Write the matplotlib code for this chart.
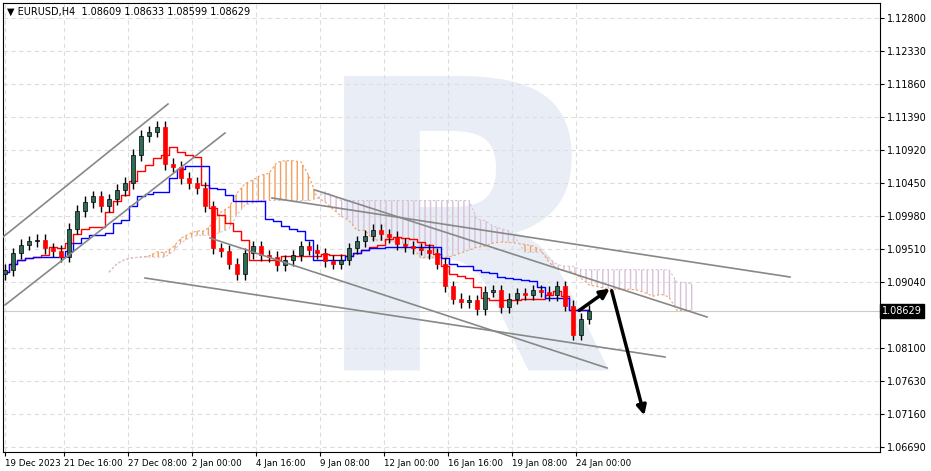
import numpy as np
import pandas as pd
import matplotlib
matplotlib.use("Agg")
import matplotlib.pyplot as plt

# EURUSD H4 closes (one bar per ~8 px of the reference)
closes = [1.0921, 1.0945, 1.0957, 1.0962, 1.0964, 1.0952, 1.0948, 1.0940, 1.0980, 1.1005,
          1.1018, 1.1026, 1.1012, 1.1022, 1.1035, 1.1045, 1.1085, 1.1112, 1.1118, 1.1125,
          1.1072, 1.1068, 1.1052, 1.1045, 1.1038, 1.1012, 1.0952, 1.0948, 1.0930, 1.0915,
          1.0945, 1.0955, 1.0942, 1.0940, 1.0928, 1.0935, 1.0942, 1.0955, 1.0950, 1.0945,
          1.0934, 1.0930, 1.0936, 1.0952, 1.0962, 1.0970, 1.0978, 1.0972, 1.0968, 1.0958,
          1.0955, 1.0952, 1.0950, 1.0945, 1.0930, 1.0898, 1.0880, 1.0875, 1.0878, 1.0865,
          1.0890, 1.0892, 1.0868, 1.0880, 1.0888, 1.0886, 1.0892, 1.0890, 1.0885, 1.0898,
          1.0870, 1.0829, 1.0852, 1.0863]
first_open = 1.0915
wick = 0.0008
price_ticks = [1.12800, 1.12330, 1.11860, 1.11390, 1.10920, 1.10450, 1.09980, 1.09510,
               1.09040, 1.08100, 1.07630, 1.07160, 1.06690]
date_labels = ["19 Dec 2023", "21 Dec 16:00", "27 Dec 08:00", "2 Jan 00:00", "4 Jan 16:00",
               "9 Jan 08:00", "12 Jan 00:00", "16 Jan 16:00", "19 Jan 08:00", "24 Jan 00:00"]
last_price = 1.08629

W, H = 931, 471
fig = plt.figure(figsize=(W / 100, H / 100), dpi=100)
L, R, T, B = 3, 880, 3, 452
ax = fig.add_axes([L / W, 1 - B / H, (R - L) / W, (B - T) / H])

# pixel -> data helpers (reference pixel geometry)
def px_x(x):
    return (x - 5) / 8.0

def px_y(y):
    return 1.128 - (y - 18) * 0.0047 / 33

ax.set_xlim(px_x(L), px_x(R))
ax.set_ylim(px_y(B), px_y(T))

# watermark
ax.text(px_x(462), px_y(258), "R", fontsize=290, fontweight="bold", color="#e9eef6",
        ha="center", va="center", zorder=0, family="DejaVu Sans", clip_on=True)

c = np.array(closes)
o = np.concatenate([[first_open], c[:-1]])
hi = np.maximum(o, c) + wick
lo = np.minimum(o, c) - wick
df = pd.DataFrame({"o": o, "h": hi, "l": lo, "c": c})
n = len(df)
idx = np.arange(n)

tenkan = (df.h.rolling(5, min_periods=1).max() + df.l.rolling(5, min_periods=1).min()) / 2
kijun = (df.h.rolling(13, min_periods=1).max() + df.l.rolling(13, min_periods=1).min()) / 2
span_a = (tenkan + kijun) / 2
span_b = (df.h.rolling(26, min_periods=1).max() + df.l.rolling(26, min_periods=1).min()) / 2
shift = 13
cx = idx + shift
ax.fill_between(cx, span_a, span_b, where=span_a >= span_b, interpolate=True,
                facecolor="none", edgecolor="#f0a060", hatch="|||", linewidth=0, zorder=1)
ax.fill_between(cx, span_a, span_b, where=span_a < span_b, interpolate=True,
                facecolor="none", edgecolor="#d8c0d8", hatch="|||", linewidth=0, zorder=1)
ax.plot(cx, span_a, color="#f0a060", lw=0.8, ls=(0, (2, 2)), zorder=1)
ax.plot(cx, span_b, color="#d8c0d8", lw=0.8, ls=(0, (2, 2)), zorder=1)

ax.plot(idx, tenkan, color="red", lw=1, zorder=3, drawstyle="steps-mid")
ax.plot(idx, kijun, color="blue", lw=1, zorder=3, drawstyle="steps-mid")

# candles
up = df.c >= df.o
ax.vlines(idx, df.l, df.h, color="black", lw=1, zorder=4)
ax.bar(idx[up], (df.c - df.o)[up], bottom=df.o[up], width=0.55, color="#2e6b57",
       edgecolor="black", lw=0.5, zorder=5)
ax.bar(idx[~up], (df.c - df.o)[~up], bottom=df.o[~up], width=0.55, color="red",
       edgecolor="red", lw=0.5, zorder=5)

# trend lines
lines = [((3, 237), (168, 104)), ((5, 305), (225, 133)), ((272, 198), (790, 277)),
         ((315, 190), (707, 317)), ((145, 278), (665, 357)), ((210, 238), (607, 368))]
for (x0, y0), (x1, y1) in lines:
    ax.plot([px_x(x0), px_x(x1)], [px_y(y0), px_y(y1)], color="#888888", lw=1.2, zorder=6)

# forecast arrows
ax.annotate("", xy=(px_x(612), px_y(287)), xytext=(px_x(577), px_y(312)),
            arrowprops=dict(arrowstyle="-|>", color="black", lw=2.5, mutation_scale=14), zorder=7)
ax.annotate("", xy=(px_x(645), px_y(418)), xytext=(px_x(611), px_y(288)),
            arrowprops=dict(arrowstyle="-|>", color="black", lw=2.5, mutation_scale=14), zorder=7)

# grid and axes
ax.set_yticks(price_ticks)
ax.yaxis.tick_right()
ax.set_yticklabels([f"{p:.5f}" for p in price_ticks], fontsize=7)
xpos = [px_x(v) for v in [5, 64, 128, 192, 256, 320, 384, 448, 512, 576]]
ax.set_xticks(xpos)
ax.set_xticklabels(date_labels, fontsize=6.3, ha="left")
ax.tick_params(length=3, pad=2)
ax.grid(True, color="#dddddd", ls=(0, (4, 3)), lw=0.8)
ax.set_axisbelow(True)
ax.axhline(last_price, color="#cccccc", lw=0.8, zorder=2)
ax.text(1.002, last_price, f"{last_price:.5f}", transform=ax.get_yaxis_transform(),
        fontsize=7, color="white", va="center", ha="left",
        bbox=dict(boxstyle="square,pad=0.2", fc="black", ec="black"), zorder=8)
for s in ax.spines.values():
    s.set_color("black")
    s.set_linewidth(0.8)

ax.text(0.004, 0.992, "\u25bc EURUSD,H4  1.08609 1.08633 1.08599 1.08629", transform=ax.transAxes,
        fontsize=7, va="top", ha="left", zorder=9, family=["DejaVu Sans"])

fig.savefig("out.png", dpi=100)
